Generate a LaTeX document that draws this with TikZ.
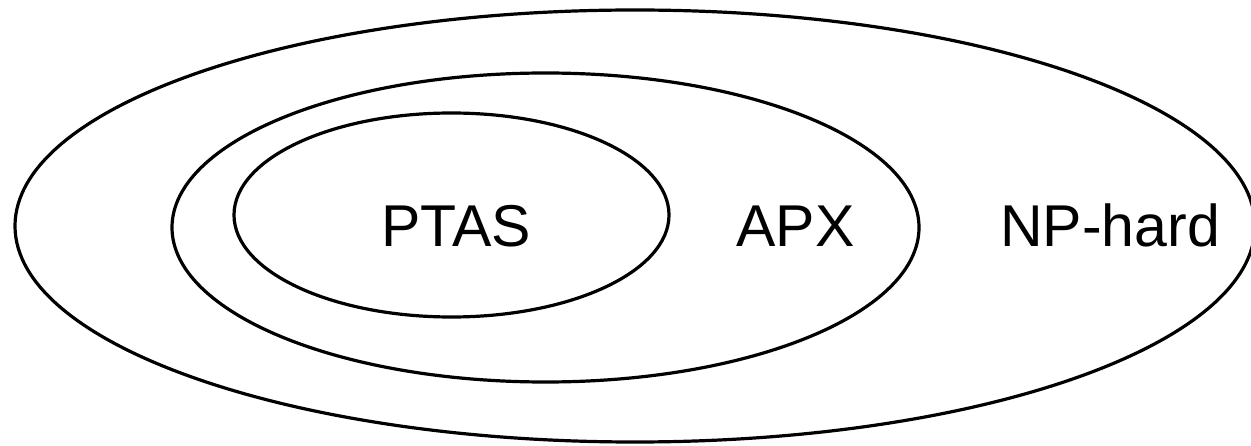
\documentclass[tikz,border=0pt]{standalone}
\usepackage{fontspec}
\setmainfont{Liberation Sans}
\usetikzlibrary{shapes.geometric}
\begin{document}
\begin{tikzpicture}[x=1pt,y=1pt,
  setring/.style={draw=black, line width=3.2pt, ellipse, inner sep=0pt},
  setlabel/.style={font=\fontsize{59}{63}\selectfont, anchor=base, inner sep=0pt}]
\useasboundingbox (0,0) rectangle (1251,445);
\node[setring, minimum width=1240pt, minimum height=432pt] (nphard) at (635,219) {};
\node[setring, minimum width=747pt, minimum height=309pt] (apx) at (545.5,217.5) {};
\node[setring, minimum width=435pt, minimum height=204pt] (ptas) at (451.5,230) {};
\node[setlabel] (ptaslabel) at (456,198) {PTAS};
\node[setlabel] (apxlabel) at (795.5,198) {APX};
\node[setlabel] (nphardlabel) at (1110,198) {NP-hard};
\end{tikzpicture}
\end{document}
